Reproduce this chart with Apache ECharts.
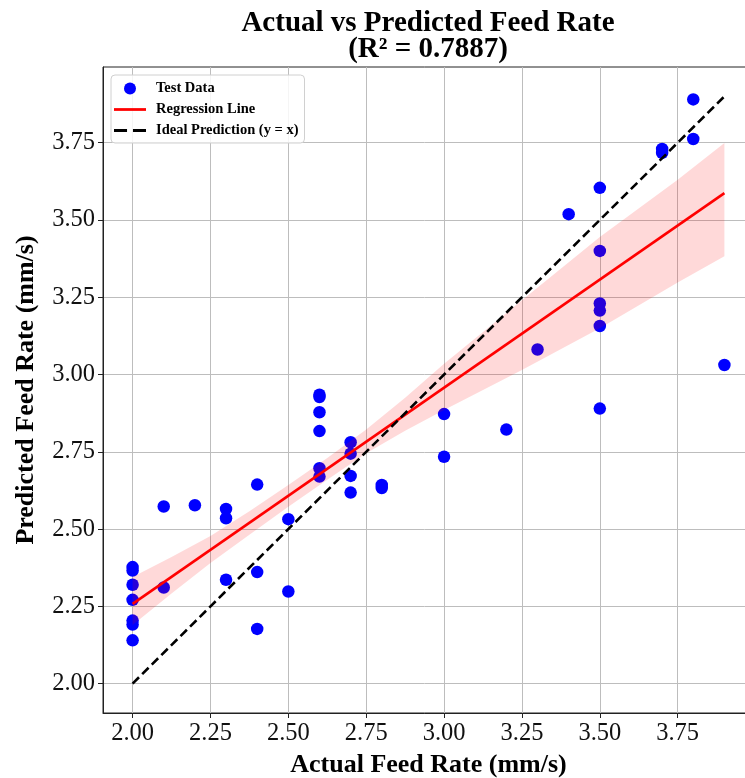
<!DOCTYPE html>
<html>
<head>
<meta charset="utf-8">
<script src="https://cdn.jsdelivr.net/npm/echarts@6/dist/echarts.min.js"></script>
<style>
html,body{margin:0;padding:0;background:#fff;}
#chart{width:745px;height:778px;}
</style>
</head>
<body>
<div id="chart"></div>
<script>
// ---- data ----
const actual = [
  2.0, 2.0, 2.0, 2.0, 2.0, 2.0, 2.0,
  2.1, 2.1,
  2.2,
  2.3, 2.3, 2.3,
  2.4, 2.4, 2.4,
  2.5, 2.5,
  2.6, 2.6, 2.6, 2.6, 2.6, 2.6,
  2.7, 2.7, 2.7, 2.7,
  2.8, 2.8,
  3.0, 3.0,
  3.2,
  3.3,
  3.4,
  3.5, 3.5, 3.5, 3.5, 3.5, 3.5,
  3.7, 3.7,
  3.8, 3.8,
  3.9
];
const predicted = [
  2.377, 2.366, 2.320, 2.271, 2.204, 2.191, 2.140,
  2.573, 2.311,
  2.577,
  2.565, 2.535, 2.336,
  2.644, 2.361, 2.177,
  2.532, 2.298,
  2.935, 2.927, 2.878, 2.817, 2.697, 2.670,
  2.781, 2.744, 2.672, 2.618,
  2.643, 2.633,
  2.872, 2.734,
  2.822,
  3.081,
  3.519,
  3.604, 3.400, 3.230, 3.207, 3.157, 2.890,
  3.730, 3.717,
  3.890, 3.762,
  3.031
];
const regX = [2.0, 3.9];
const regY = [2.258, 3.587];
const idealX = [2.0, 3.9];
const idealY = [2.0, 3.9];
const bandX     = [2.0,   2.125, 2.25,  2.375, 2.5,   2.625, 2.75,  2.875, 3.0,   3.25,  3.5,   3.75,  3.9];
const bandUpper = [2.345, 2.410, 2.478, 2.558, 2.643, 2.730, 2.822, 2.925, 3.035, 3.240, 3.445, 3.630, 3.749];
const bandLower = [2.190, 2.292, 2.390, 2.482, 2.572, 2.660, 2.745, 2.818, 2.885, 3.015, 3.150, 3.298, 3.383];
const tickValues = [2.0, 2.25, 2.5, 2.75, 3.0, 3.25, 3.5, 3.75];
const axisMin = 1.905, axisMax = 3.995;

const titleText = 'Actual vs Predicted Feed Rate\n(R\u00B2 = 0.7887)';
const xName = 'Actual Feed Rate (mm/s)';
const yName = 'Predicted Feed Rate (mm/s)';
const seriesNames = ['Test Data', 'Regression Line', 'Ideal Prediction (y = x)'];

// ---- chart ----
const serif = '"Liberation Serif", "DejaVu Serif", serif';
const chart = echarts.init(document.getElementById('chart'), null, {renderer: 'canvas'});

const scatterData = actual.map((x, i) => [x, predicted[i]]);
const regData = regX.map((x, i) => [x, regY[i]]);
const idealData = idealX.map((x, i) => [x, idealY[i]]);

function axisCommon(name, nameGap) {
  return {
    type: 'value',
    min: axisMin,
    max: axisMax,
    name: name,
    nameLocation: 'middle',
    nameGap: nameGap,
    nameTextStyle: {fontFamily: serif, fontWeight: 'bold', fontSize: 26, color: '#000'},
    axisLine: {show: true, onZero: false, lineStyle: {color: '#222', width: 1}},
    axisTick: {show: true, inside: false, length: 5, customValues: tickValues, lineStyle: {color: '#222', width: 1}},
    axisLabel: {
      show: true, customValues: tickValues, margin: 8,
      fontFamily: serif, fontSize: 24.5, color: '#111',
      formatter: v => v.toFixed(2)
    },
    splitLine: {show: true, lineStyle: {color: '#bdbdbd', width: 1}}
  };
}

const option = {
  backgroundColor: '#ffffff',
  animation: false,
  title: {
    text: titleText,
    left: 428,
    top: 11,
    padding: 0,
    textAlign: 'center',
    textStyle: {fontFamily: serif, fontWeight: 'bold', fontSize: 29, lineHeight: 26, color: '#000'}
  },
  grid: {
    left: 103, top: 67, right: -9, bottom: 65,
    outerBoundsMode: 'none',
    containLabel: false,
    show: true, borderColor: '#222', borderWidth: 1, backgroundColor: 'transparent'
  },
  legend: {
    orient: 'vertical',
    left: 111, top: 75,
    padding: [6, 6, 5, 3],
    itemWidth: 32, itemHeight: 12, itemGap: 6,
    backgroundColor: 'rgba(255,255,255,0.85)',
    borderColor: '#d0d0d0', borderWidth: 1, borderRadius: 4,
    itemStyle: {borderWidth: 0},
    textStyle: {fontFamily: serif, fontWeight: 'bold', fontSize: 14.5, lineHeight: 12, color: '#000', padding: [0, 0, 0, 5]},
    data: [
      {name: seriesNames[0], icon: 'circle'},
      {name: seriesNames[1], icon: 'path://M0,0h30v2.6h-30z'},
      {name: seriesNames[2], icon: 'path://M0,0h11v2.6h-11z M16,0h11v2.6h-11z'}
    ]
  },
  xAxis: axisCommon(xName, 39),
  yAxis: axisCommon(yName, 64),
  series: [
    {
      name: seriesNames[0],
      type: 'scatter',
      data: scatterData,
      symbol: 'circle',
      symbolSize: 12.5,
      itemStyle: {color: '#0000ff', opacity: 1},
      z: 3
    },
    {
      name: 'CI band',
      type: 'custom',
      data: [[bandX[0], bandLower[0]]],
      z: 4,
      silent: true,
      renderItem: function (params, api) {
        const pts = [];
        for (let i = 0; i < bandX.length; i++) pts.push(api.coord([bandX[i], bandUpper[i]]));
        for (let i = bandX.length - 1; i >= 0; i--) pts.push(api.coord([bandX[i], bandLower[i]]));
        return {
          type: 'polygon',
          shape: {points: pts},
          style: {fill: 'rgba(255,0,0,0.15)', stroke: null}
        };
      }
    },
    {
      name: seriesNames[1],
      type: 'line',
      data: regData,
      symbol: 'none',
      lineStyle: {color: '#ff0000', width: 2.6},
      itemStyle: {color: '#ff0000'},
      z: 5
    },
    {
      name: seriesNames[2],
      type: 'line',
      data: idealData,
      symbol: 'none',
      lineStyle: {color: '#000000', width: 2.6, type: [9, 4.5]},
      itemStyle: {color: '#000000'},
      z: 6
    }
  ]
};
chart.setOption(option);
</script>
</body>
</html>
